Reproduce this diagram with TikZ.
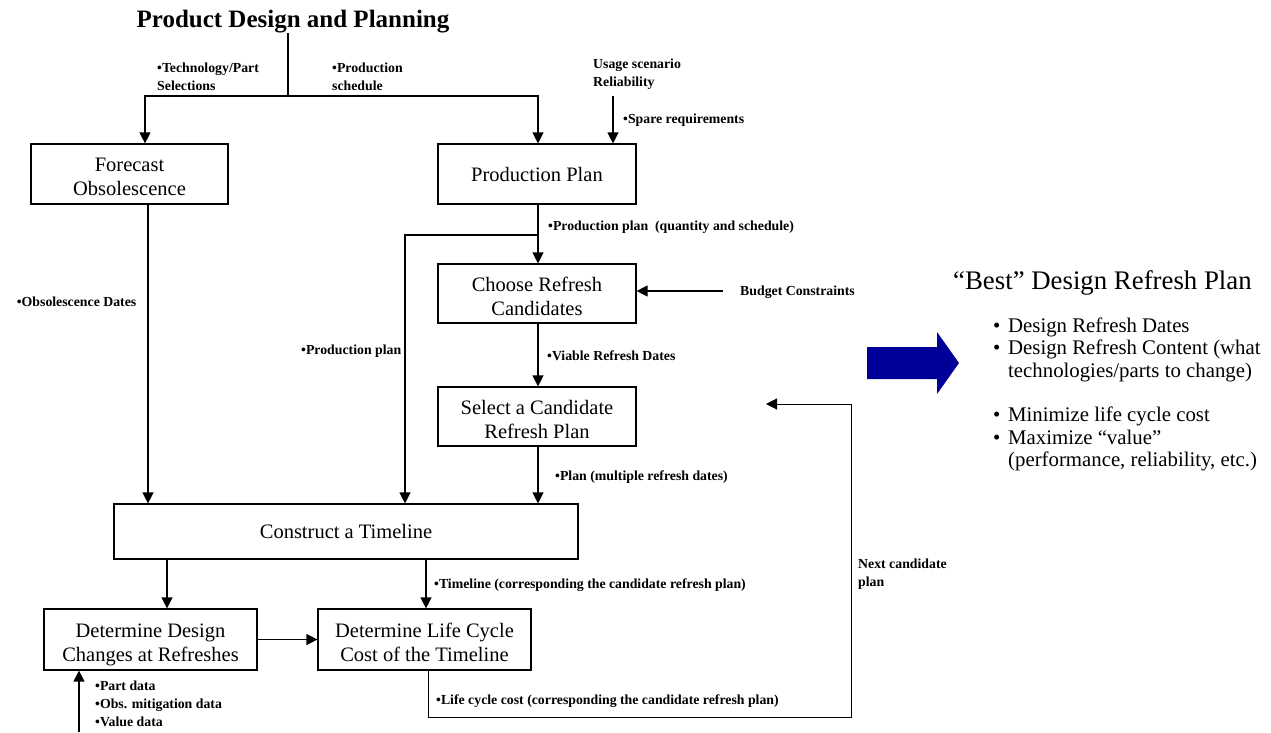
\documentclass[tikz,border=0pt]{standalone}
\usepackage{fontspec}
\setmainfont{Liberation Serif}
\usetikzlibrary{arrows.meta}
\definecolor{navyarrow}{RGB}{0,0,153}
\newcommand\topstrut{\rule{0pt}{24pt}}
\newcommand\botstrut{\rule[-5pt]{0pt}{5pt}}
\begin{document}
\begin{tikzpicture}[x=1pt,y=-1pt,
  box/.style={draw, line width=1.2pt, inner sep=0pt, align=center, font=\fontsize{20.5}{24}\selectfont},
  lbl/.style={anchor=base west, inner sep=0pt, align=left, font=\bfseries\fontsize{13.8}{18}\selectfont},
  arr/.style={line width=1.3pt, -{Triangle[length=11pt,width=11pt]}},
  thinarr/.style={line width=1pt, -{Triangle[length=11pt,width=11pt]}},
  ln/.style={line width=1.3pt},
  ]
\useasboundingbox (0,0) rectangle (1271,732);

% title
\node[anchor=base, inner sep=0pt, font=\bfseries\fontsize{25}{30}\selectfont] (title) at (293,27) {Product Design and Planning};

% boxes
\node[box, minimum width=197pt, minimum height=60pt] (fo) at (129.5,174) {\topstrut Forecast\\Obsolescence\botstrut};
\node[box, minimum width=198pt, minimum height=60pt] (pp) at (537,174) {Production Plan};
\node[box, minimum width=198pt, minimum height=59pt] (cr) at (537,293.5) {\topstrut Choose Refresh\\Candidates\botstrut};
\node[box, minimum width=198pt, minimum height=59pt] (sc) at (537,416.5) {\topstrut Select a Candidate\\Refresh Plan\botstrut};
\node[box, minimum width=464pt, minimum height=55pt] (ct) at (346,531.5) {Construct a Timeline};
\node[box, minimum width=213pt, minimum height=61pt] (dd) at (150.5,639.5) {\topstrut Determine Design\\Changes at Refreshes\botstrut};
\node[box, minimum width=213pt, minimum height=61pt] (dl) at (424.5,639.5) {\topstrut Determine Life Cycle\\Cost of the Timeline\botstrut};

% coordinates
\coordinate (t1) at (288,33);
\coordinate (t2) at (288,96);
\coordinate (hl) at (145,96);
\coordinate (hr) at (538,96);
\coordinate (us) at (613,96);
\coordinate (p1) at (538,235);
\coordinate (p2) at (405,235);
\coordinate (f1) at (148,0);
\coordinate (bc) at (723,291);
\coordinate (c1) at (167,0);
\coordinate (c2) at (426,0);
\coordinate (v1) at (79,732);
\coordinate (lc) at (428,717);
\coordinate (rc) at (851,717);
\coordinate (tc) at (851,404);
\coordinate (ac) at (766,404);

% connectors
\draw[ln] (t1) -- (t2);
\draw[arr] (t2) -| (hl |- fo.north);
\draw[arr] (t2) -| (hr |- pp.north);
\draw[arr] (us) -- (us |- pp.north);
\draw[arr] (pp.south -| p1) -- (cr.north -| p1);
\draw[arr] (p1) -- (p2) -- (p2 |- ct.north);
\draw[arr] (fo.south -| f1) -- (ct.north -| f1);
\draw[arr] (bc) -- (bc -| cr.east);
\draw[arr] (cr.south -| p1) -- (sc.north -| p1);
\draw[arr] (sc.south -| p1) -- (ct.north -| p1);
\draw[arr] (ct.south -| c1) -- (dd.north -| c1);
\draw[arr] (ct.south -| c2) -- (dl.north -| c2);
\draw[arr] (dd.east) -- (dl.west);
\draw[arr] (v1) -- (v1 |- dd.south);
\draw[thinarr] (dl.south -| lc) -- (lc) -- (rc) -- (tc) -- (ac);

% labels (multi-line: anchor at the baseline of the last line)
\node[lbl] (l1) at (157,90.7) {•Technology/Part\\Selections};
\node[lbl] (l2) at (332,90.7) {•Production\\schedule};
\node[lbl] (l3) at (593,86.7) {Usage scenario\\Reliability};
\node[lbl] (l4) at (623,123.3) {•Spare requirements};
\node[lbl] (l5) at (548,230) {•Production plan\ \ (quantity and schedule)};
\node[lbl] (l6) at (16.7,306.7) {•Obsolescence Dates};
\node[lbl] (l7) at (301,354) {•Production plan};
\node[lbl] (l8) at (740,295.7) {Budget Constraints};
\node[lbl] (l9) at (547,360) {•Viable Refresh Dates};
\node[lbl] (l10) at (555,480) {•Plan (multiple refresh dates)};
\node[lbl] (l11) at (434,588) {•Timeline (corresponding the candidate refresh plan)};
\node[lbl] (l12) at (436,704) {•Life cycle cost (corresponding the candidate refresh plan)};
\node[lbl] (l13) at (858,586) {Next candidate\\plan};
\node[lbl] (l14) at (95,726) {•Part data\\•Obs. mitigation data\\•Value data};

% big arrow
\fill[navyarrow] (867,347) -- (937,347) -- (937,332) -- (959,363) -- (937,394) -- (937,379) -- (867,379) -- cycle;

% right side text
\node[anchor=base west, inner sep=0pt, font=\fontsize{26.8}{32}\selectfont] (best) at (953,289.3) {“Best” Design Refresh Plan};
\node[anchor=base west, inner sep=0pt, align=left, font=\fontsize{20.8}{22.5}\selectfont] (bl) at (993,466.7)
 {\makebox[15pt][l]{•}Design Refresh Dates\\
  \makebox[15pt][l]{•}Design Refresh Content (what\\
  \makebox[15pt][l]{}technologies/parts to change)\\[22pt]
  \makebox[15pt][l]{•}Minimize life cycle cost\\
  \makebox[15pt][l]{•}Maximize “value”\\
  \makebox[15pt][l]{}(performance, reliability, etc.)};
\end{tikzpicture}
\end{document}
